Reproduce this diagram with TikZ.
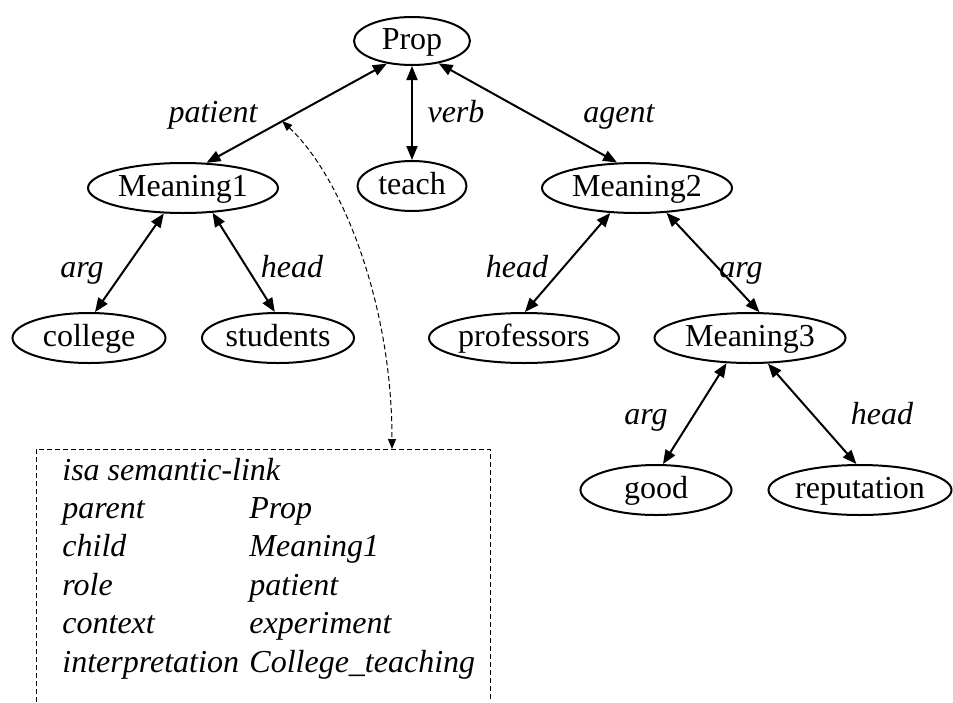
\documentclass[tikz,border=0pt]{standalone}
\usepackage{fontspec}
\setmainfont{Liberation Serif}
\usetikzlibrary{arrows.meta,shapes.geometric}

\begin{document}
\begin{tikzpicture}[
    x=0.5pt, y=-0.5pt,
    every node/.style={font=\fontsize{16}{19.2}\selectfont},
    every label/.style={inner sep=0pt, text height=11pt, text depth=2.3pt},
    entity/.style={draw, ellipse, line width=1pt, inner sep=0pt, minimum height=25pt, minimum width=#1},
    role/.style={font=\fontsize{16}{19.2}\selectfont\itshape, anchor=base, inner sep=0pt},
    link/.style={{Triangle[length=7pt,width=5.5pt]}-{Triangle[length=7pt,width=5.5pt]}, line width=1pt},
    note/.style={dash pattern=on 2.5pt off 1.5pt, line width=0.5pt},
    notelink/.style={note, {Triangle[length=5pt,width=4pt]}-{Triangle[length=5pt,width=4pt]}}
]
\useasboundingbox (0,0) rectangle (953,702);
% semantic network
\node[entity=58pt, minimum height=24pt, label=center:Prop] (prop) at (412,41) {};
\node[entity=95pt, label=center:Meaning1] (m1) at (183,188) {};
\node[entity=54.5pt, label=center:teach] (teach) at (412,186) {};
\node[entity=95pt, label=center:Meaning2] (m2) at (637,188) {};
\node[entity=76.5pt, label=center:college] (college) at (89,338) {};
\node[entity=76pt, label=center:students] (students) at (278,338) {};
\node[entity=95pt, label=center:professors] (professors) at (524,338) {};
\node[entity=95.5pt, label=center:Meaning3] (m3) at (750,338) {};
\node[entity=75.5pt, label=center:good] (good) at (656,490) {};
\node[entity=91.5pt, label=center:reputation] (reputation) at (860,490) {};
\draw[link] (prop.222) -- coordinate[pos=0.58] (patmid) (m1.47);
\draw[link] (prop.south) -- (teach.north);
\draw[link] (prop.320) -- (m2.128);
\draw[link] (m1.233) -- (college.77);
\draw[link] (m1.320) -- (students.97);
\draw[link] (m2.223) -- (professors.88);
\draw[link] (m2.320) -- (m3.70);
\draw[link] (m3.227) -- (good.75);
\draw[link] (m3.305) -- (reputation.98);
% role labels
\node[role] (lpatient) at (213,122) {patient};
\node[role] (lverb) at (456,122) {verb};
\node[role] (lagent) at (619,122) {agent};
\node[role] (larg1) at (82,277) {arg};
\node[role] (lhead1) at (292,277) {head};
\node[role] (lhead2) at (517,277) {head};
\node[role] (larg2) at (741,277) {arg};
\node[role] (larg3) at (646,424) {arg};
\node[role] (lhead3) at (882,424) {head};
% link frame
\coordinate (boxin) at (392,449);
\draw[note] (36,702) |- (490,449) -- (490,702);
\node[anchor=base west, inner sep=0pt, font=\fontsize{16}{19.2}\selectfont\itshape] (frame) at (62,480)
  {\begin{tabular}[t]{@{}p{93.5pt}@{}l@{}}
   \multicolumn{2}{@{}l@{}}{isa semantic-link}\\
   parent & Prop\\
   child & Meaning1\\
   role & patient\\
   context & experiment\\
   interpretation & College\_teaching
   \end{tabular}};
\draw[notelink] (patmid) .. controls (340,175) and (392,300) .. (boxin);
\end{tikzpicture}
\end{document}
